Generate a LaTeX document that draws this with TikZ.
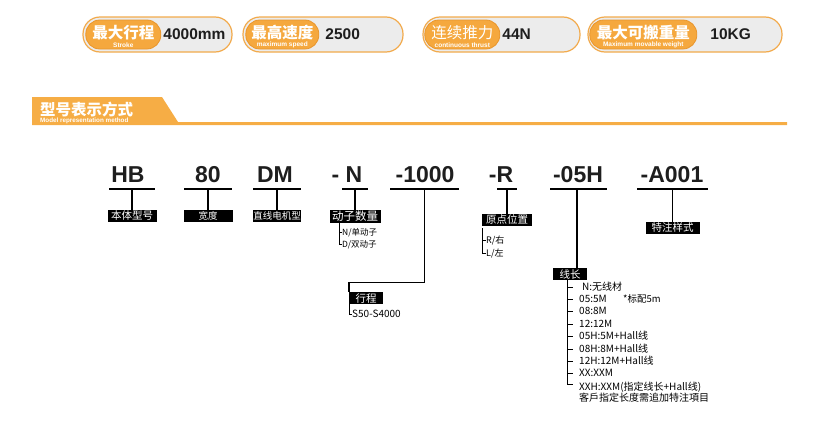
\documentclass[tikz,border=0pt]{standalone}
\usepackage{fontspec}
\setmainfont{Liberation Sans}
\newfontfamily\cjk{Noto Sans CJK SC}
\usetikzlibrary{positioning}
\definecolor{tagorange}{HTML}{F5A83E}
\definecolor{tagedge}{HTML}{E9962C}
\definecolor{ringorange}{HTML}{F2AA4C}
\definecolor{pillgray}{HTML}{ECECEC}
\definecolor{bannerorange}{HTML}{F6AD45}
\definecolor{codeblack}{HTML}{1E1E1E}

\begin{document}
\begin{tikzpicture}[x=1pt, y=-1pt,
    pill/.style={draw=ringorange, line width=1.2pt, fill=pillgray, rounded corners=17pt, minimum height=35pt, inner sep=0pt},
    tag/.style={draw=tagedge, line width=0.8pt, fill=tagorange, rounded corners=14pt, minimum height=29pt, inner sep=0pt},
    tagtitle/.style={text=white, font=\cjk\bfseries\fontsize{15.5}{16}\selectfont, inner sep=0pt},
    tagsub/.style={text=white, font=\bfseries\fontsize{6.5}{6.5}\selectfont, inner sep=0pt},
    value/.style={font=\bfseries\fontsize{15.5}{15.5}\selectfont, inner sep=0pt, text=codeblack},
    code/.style={font=\bfseries\fontsize{23}{23}\selectfont, inner sep=0pt, anchor=base, text=codeblack},
    bar/.style={fill=black, inner sep=0pt, outer sep=0pt, minimum height=1.4pt},
    lab/.style={fill=black, text=white, font=\cjk\fontsize{10.5}{10.5}\selectfont, inner xsep=0pt, inner ysep=0.5pt, text height=9.2pt, text depth=1.6pt, minimum height=12pt},
    item/.style={font=\cjk\fontsize{10}{10}\selectfont, inner sep=0pt, text height=8pt, text depth=2pt, anchor=west},
    tie/.style={line width=1.4pt},
    fork/.style={line width=0.7pt}
  ]
  \useasboundingbox (0,0) rectangle (822,447);

  % top pills
  \node[pill, minimum width=149pt] (p1) at (157.5,34.5) {};
  \node[tag, minimum width=75pt, right=3pt of p1.west] (p1-tag) {};
  \node[tagtitle] (p1-t) at ([yshift=1.5pt]p1-tag.center) {最大行程};
  \node[tagsub] (p1-s) at ([yshift=-10.5pt]p1-tag.center) {Stroke};
  \node[value, right=2pt of p1-tag.east] (p1-v) {4000mm};

  \node[pill, minimum width=160pt] (p2) at (323,34.5) {};
  \node[tag, minimum width=73pt, right=3pt of p2.west] (p2-tag) {};
  \node[tagtitle] (p2-t) at ([yshift=1.5pt]p2-tag.center) {最高速度};
  \node[tagsub] (p2-s) at ([yshift=-10.5pt]p2-tag.center) {maximum speed};
  \node[value, right=6pt of p2-tag.east] (p2-v) {2500};

  \node[pill, minimum width=157pt] (p3) at (501.5,34.5) {};
  \node[tag, minimum width=75pt, right=2pt of p3.west] (p3-tag) {};
  \node[tagtitle, font=\cjk\fontsize{15.5}{16}\selectfont] (p3-t) at ([yshift=1.5pt]p3-tag.center) {连续推力};
  \node[tagsub] (p3-s) at ([yshift=-10.5pt]p3-tag.center) {continuous thrust};
  \node[value, right=2pt of p3-tag.east] (p3-v) {44N};

  \node[pill, minimum width=194pt] (p4) at (685,34.5) {};
  \node[tag, minimum width=107pt, right=2pt of p4.west] (p4-tag) {};
  \node[tagtitle] (p4-t) at ([yshift=1.5pt]p4-tag.center) {最大可搬重量};
  \node[tagsub] (p4-s) at ([yshift=-10.5pt]p4-tag.center) {Maximum movable weight};
  \node[value, right=13pt of p4-tag.east] (p4-v) {10KG};

  % section banner
  \fill[bannerorange] (32,97) -- (162,97) -- (178,122) -- (787,122) -- (787,125) -- (32,125) -- cycle;
  \node[tagtitle, anchor=west] (head) at (40,110) {型号表示方式};
  \node[tagsub, anchor=west, font=\bfseries\fontsize{6.3}{6.3}\selectfont] (head-s) at (40,121) {Model representation method};

  % model code
  \node[code] (hb) at (128,182) {HB};
  \node[code] (w) at (208,182) {80};
  \node[code] (dm) at (275,182) {DM};
  \node[code] (n) at (347,182) {- N};
  \node[code] (st) at (425,182) {-1000};
  \node[code] (r) at (501,182) {-R};
  \node[code] (cab) at (578,182) {-05H};
  \node[code] (sp) at (672,182) {-A001};

  \node[bar, minimum width=46pt] (hb-bar) at (132,189) {};
  \node[bar, minimum width=48pt] (w-bar) at (208,189) {};
  \node[bar, minimum width=48pt] (dm-bar) at (277,189) {};
  \node[bar, minimum width=26pt] (n-bar) at (355,189) {};
  \node[bar, minimum width=69pt] (st-bar) at (424.5,189) {};
  \node[bar, minimum width=20pt] (r-bar) at (507,189) {};
  \node[bar, minimum width=57pt] (cab-bar) at (578.5,189) {};
  \node[bar, minimum width=71pt] (sp-bar) at (672.5,189) {};

  % labels
  \node[lab, minimum width=49pt, below=20pt of hb-bar] (hb-lab) {本体型号};
  \node[lab, minimum width=49pt, below=20pt of w-bar, font=\cjk\fontsize{9.5}{9.5}\selectfont] (w-lab) {宽度};
  \node[lab, minimum width=48pt, below=20pt of dm-bar, font=\cjk\fontsize{9.5}{9.5}\selectfont] (dm-lab) {直线电机型};
  \node[lab, minimum width=51pt, minimum height=13pt, below=20pt of n-bar, font=\cjk\fontsize{11.5}{11.5}\selectfont] (n-lab) {动子数量};
  \node[lab, minimum width=34pt, anchor=north west] (st-lab) at (349,292) {行程};
  \node[lab, minimum width=50pt, below=24pt of r-bar] (r-lab) {原点位置};
  \node[lab, minimum width=34pt, anchor=north] (cab-lab) at (570,268) {线长};
  \node[lab, minimum width=54pt, below=32pt of sp-bar] (sp-lab) {特注样式};

  \draw[tie] (hb-bar.south) -- (hb-lab.north);
  \draw[tie] (w-bar.south) -- (w-lab.north);
  \draw[tie] (dm-bar.south) -- (dm-lab.north);
  \draw[tie] (n-bar.south) -- (n-bar |- n-lab.north);
  \draw[tie] (st-bar.south) -- ++(0,93) -| (st-lab.north west);
  \draw[tie] (r-bar.south) -- (r-lab.north);
  \draw[tie] (cab-bar.south) ++(-1.5,0) coordinate (cab-drop) -- (cab-drop |- cab-lab.north);
  \draw[tie] (sp-bar.south) -- (sp-lab.north);

  % option lists
  \node[item, font=\cjk\fontsize{8.5}{8.5}\selectfont] (n1) at (342,232) {N/单动子};
  \node[item, font=\cjk\fontsize{8.5}{8.5}\selectfont, below=2pt of n1.south west, anchor=north west] (n2) {D/双动子};
  \coordinate (n-br) at ([xshift=-3pt]n1.west |- n-lab.south);
  \draw[fork] (n-br) |- (n1.west) (n-br) |- (n2.west);

  \node[item, font=\cjk\fontsize{9}{9}\selectfont] (r1) at (486,240) {R/右};
  \node[item, font=\cjk\fontsize{9}{9}\selectfont, below=3pt of r1.south west, anchor=north west] (r2) {L/左};
  \coordinate (r-br) at ([xshift=-4pt,yshift=-2pt]r1.west |- r-lab.south);
  \draw[fork] (r-br) |- (r1.west) (r-br) |- (r2.west);

  \node[item, font=\cjk\fontsize{10}{10}\selectfont] (st1) at (352,314) {S50-S4000};
  \draw[fork] (st-lab.south west) |- (st1.west);

  \node[item] (c1) at (579,287) {\hspace{3pt}N:无线材};
  \node[item, below=2pt of c1.south west, anchor=north west] (c2) {05:5M};
  \node[item, font=\cjk\fontsize{9.5}{9.5}\selectfont, right=16pt of c2] (c2-note) {*标配5m};
  \node[item, below=2pt of c2.south west, anchor=north west] (c3) {08:8M};
  \node[item, below=2pt of c3.south west, anchor=north west] (c4) {12:12M};
  \node[item, below=2pt of c4.south west, anchor=north west] (c5) {05H:5M+Hall线};
  \node[item, below=2pt of c5.south west, anchor=north west] (c6) {08H:8M+Hall线};
  \node[item, below=2pt of c6.south west, anchor=north west] (c7) {12H:12M+Hall线};
  \node[item, below=2pt of c7.south west, anchor=north west] (c8) {XX:XXM};
  \node[item, below=3pt of c8.south west, anchor=north west] (c9) {XXH:XXM(指定线长+Hall线)};
  \node[item, below=1pt of c9.south west, anchor=north west] (c10) {客戶指定长度需追加特注項目};
  \coordinate (cab-br) at (567,280);
  \draw[fork] (cab-br) |- ([xshift=-6pt]c1.west)
              (cab-br) |- ([xshift=-6pt]c2.west)
              (cab-br) |- ([xshift=-6pt]c3.west)
              (cab-br) |- ([xshift=-6pt]c4.west)
              (cab-br) |- ([xshift=-6pt]c5.west)
              (cab-br) |- ([xshift=-6pt]c6.west)
              (cab-br) |- ([xshift=-6pt]c7.west)
              (cab-br) |- ([xshift=-6pt]c8.west)
              (cab-br) |- ([xshift=-6pt,yshift=3pt]c9.west);
\end{tikzpicture}
\end{document}
